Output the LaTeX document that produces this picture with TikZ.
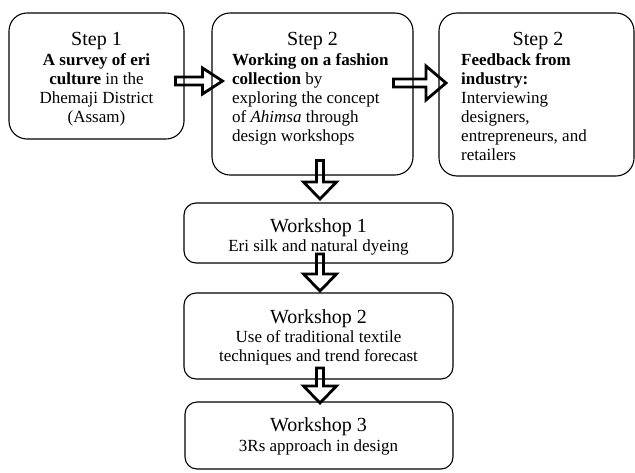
\documentclass[tikz,border=0pt]{standalone}
\usepackage{fontspec}
\setmainfont{Liberation Serif}
\usetikzlibrary{calc}
\tikzset{
  topbox/.style={draw, line width=1.1pt, rounded corners=18pt, inner sep=0pt},
  wbox/.style={draw, line width=1.1pt, rounded corners=12pt, inner sep=0pt},
  hd/.style={font=\fontsize{20}{22}\selectfont, inner sep=0pt, anchor=base},
  bd/.style={font=\fontsize{17}{19}\selectfont, inner sep=0pt},
  barrow/.style={draw, fill=white, line width=2.8pt, line join=miter},
}
\newcommand\harrowdraw[4]{%
  \draw[barrow] let \p1=(#1), \p2=(#2) in
    (\x1,\y1+#4) -- (\x2-20,\y1+#4) -- (\x2-20,\y1+#3) -- (\x2,\y1) --
    (\x2-20,\y1-#3) -- (\x2-20,\y1-#4) -- (\x1,\y1-#4) -- cycle;}
\newcommand\varrowdraw[4]{%
  \draw[barrow] let \p1=(#1), \p2=(#2) in
    (\x1-#4,\y1) -- (\x1-#4,\y2+17) -- (\x1-#3,\y2+17) -- (\x1,\y2) --
    (\x1+#3,\y2+17) -- (\x1+#4,\y2+17) -- (\x1+#4,\y1) -- cycle;}
\begin{document}
\begin{tikzpicture}[x=1pt,y=-1pt]
\useasboundingbox (0,0) rectangle (635,472);

% arrow end points
\coordinate (a1s) at (175.5,81);
\coordinate (a1t) at (222.5,81);
\coordinate (a2s) at (393.5,83);
\coordinate (a2t) at (446,83);
\coordinate (v1s) at (320,160.5);
\coordinate (v1t) at (320,199);
\coordinate (v2s) at (320,254);
\coordinate (v2t) at (320,291);
\coordinate (v3s) at (320,368);
\coordinate (v3t) at (320,403);

% block arrows (drawn first, boxes over them)
\harrowdraw{a1s}{a1t}{13}{4}
\harrowdraw{a2s}{a2t}{17}{4}
\varrowdraw{v1s}{v1t}{16.5}{3.5}
\varrowdraw{v2s}{v2t}{16.5}{3.5}
\varrowdraw{v3s}{v3t}{16.5}{3.5}

% boxes
\node[topbox, minimum width=175pt, minimum height=126pt] (b1) at (96.5,76) {};
\node[topbox, minimum width=201pt, minimum height=162pt] (b2) at (312.5,94) {};
\node[topbox, minimum width=195pt, minimum height=163pt] (b3) at (536.5,94.5) {};
\node[wbox, minimum width=269pt, minimum height=60pt] (w1) at (318.5,233) {};
\node[wbox, minimum width=269pt, minimum height=86pt] (w2) at (318.5,336) {};
\node[wbox, minimum width=268pt, minimum height=67pt] (w3) at (319,435.5) {};

% box 1 text
\node[hd] (h1) at (96.5,45) {Step 1};
\node[bd, anchor=north, align=center] (t1) at (96.5,51.7)
  {\strut\textbf{A survey of eri}\\ \textbf{culture} in the\\ Dhemaji District\\ (Assam)};

% box 2 text
\node[hd] (h2) at (312.5,45) {Step 2};
\node[bd, anchor=north west, align=left] (t2) at (232,51.7)
  {\strut\textbf{Working on a fashion}\\ \textbf{collection} by\\ exploring the concept\\ of \textit{Ahimsa} through\\ design workshops};

% box 3 text
\node[hd] (h3) at (538,45) {Step 2};
\node[bd, anchor=north west, align=left] (t3) at (461,51.7)
  {\strut\textbf{Feedback from}\\ \textbf{industry:}\\ Interviewing\\ designers,\\ entrepreneurs, and\\ retailers};

% workshop texts
\node[hd] (wh1) at (318.5,232) {Workshop 1};
\node[bd, anchor=base] (wt1) at (318.5,251) {Eri silk and natural dyeing};
\node[hd] (wh2) at (318.5,323) {Workshop 2};
\node[bd, anchor=north, align=center] (wt2) at (318.5,328.7)
  {\strut Use of traditional textile\\ techniques and trend forecast};
\node[hd] (wh3) at (318.5,431) {Workshop 3};
\node[bd, anchor=base] (wt3) at (318.5,451) {3Rs approach in design};
\end{tikzpicture}
\end{document}
